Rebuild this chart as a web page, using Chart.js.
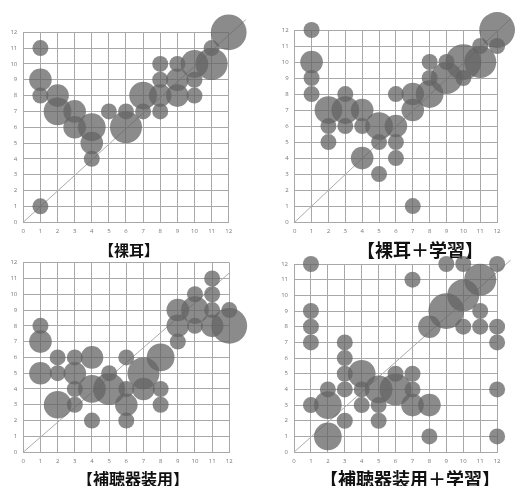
<!DOCTYPE html>
<html>
<head>
<meta charset="utf-8">
<script src="https://cdn.jsdelivr.net/npm/chart.js@4/dist/chart.umd.min.js"></script>
<style>
  body { margin: 0; background: #fff; }
  #wrap { position: relative; width: 515px; height: 486px; overflow: hidden; }
  canvas { position: absolute; }
  .cap {
    position: absolute;
    transform: translate(-50%, -50%);
    white-space: nowrap;
    font-family: "Noto Sans CJK JP", sans-serif;
    font-weight: bold;
    color: #111;
  }
</style>
</head>
<body>
<div id="wrap"></div>
<script>
// [x, y, count] — count is number of answers on that cell
const rajiPoints = [
  [1, 11, 1], [1, 9, 2], [1, 8, 1], [1, 1, 1],
  [2, 8, 2], [2, 7, 3], [3, 7, 2], [3, 6, 2],
  [4, 6, 3], [4, 5, 2], [4, 4, 1], [5, 7, 1],
  [6, 7, 1], [6, 6, 4], [7, 8, 3], [7, 7, 1],
  [8, 10, 1], [8, 9, 1], [8, 8, 2], [8, 7, 1],
  [9, 10, 1], [9, 9, 2], [9, 8, 2],
  [10, 10, 3], [10, 9, 1], [10, 8, 1],
  [11, 11, 1], [11, 10, 4], [12, 12, 5]
];
const rajiGakushuPoints = [
  [1, 12, 1], [1, 10, 2], [1, 9, 1], [1, 8, 1],
  [2, 7, 3], [2, 6, 1], [2, 5, 1],
  [3, 8, 1], [3, 7, 3], [3, 6, 1],
  [4, 7, 2], [4, 6, 1], [4, 4, 2],
  [5, 6, 3], [5, 5, 1], [5, 3, 1],
  [6, 8, 1], [6, 6, 2], [6, 5, 1], [6, 4, 1],
  [7, 8, 2], [7, 7, 2], [7, 1, 1],
  [8, 10, 1], [8, 9, 1], [8, 8, 3],
  [9, 10, 1], [9, 9, 4], [10, 10, 5], [10, 9, 1],
  [11, 11, 1], [11, 10, 4], [12, 12, 5], [12, 11, 1]
];
const hochokiPoints = [
  [1, 8, 1], [1, 7, 2], [1, 5, 2],
  [2, 6, 1], [2, 5, 1], [2, 3, 3],
  [3, 6, 1], [3, 5, 2], [3, 4, 1], [3, 3, 1],
  [4, 6, 2], [4, 4, 3], [4, 2, 1],
  [5, 5, 1], [5, 4, 4],
  [6, 6, 1], [6, 4, 1], [6, 3, 2], [6, 2, 1],
  [7, 5, 4], [7, 4, 2],
  [8, 6, 3], [8, 4, 1], [8, 3, 1],
  [9, 9, 2], [9, 8, 2], [9, 7, 1],
  [10, 10, 1], [10, 9, 3], [10, 8, 1],
  [11, 11, 1], [11, 10, 1], [11, 9, 1], [11, 8, 2],
  [12, 9, 1], [12, 8, 5]
];
const hochokiGakushuPoints = [
  [1, 12, 1], [1, 9, 1], [1, 8, 1], [1, 7, 1], [1, 3, 1],
  [2, 4, 1], [2, 3, 3], [2, 1, 3],
  [3, 7, 1], [3, 6, 1], [3, 5, 1], [3, 4, 1], [3, 2, 1],
  [4, 5, 3], [4, 4, 1], [4, 3, 1],
  [5, 4, 3], [5, 3, 1], [5, 2, 1],
  [6, 5, 1], [6, 4, 4],
  [7, 11, 1], [7, 5, 1], [7, 4, 1], [7, 3, 2],
  [8, 8, 2], [8, 3, 2], [8, 1, 1],
  [9, 12, 1], [9, 9, 5],
  [10, 12, 1], [10, 10, 4], [10, 8, 1],
  [11, 11, 4], [11, 9, 1], [11, 8, 1],
  [12, 12, 1], [12, 8, 1], [12, 7, 1], [12, 4, 1], [12, 1, 1]
];
// reference diagonal (start / end in data units)
const rajiDiag = [[0, 0], [13, 12.8]];
const rajiGakushuDiag = [[0, 0], [12.8, 12.7]];
const hochokiDiag = [[0, 0], [12, 11.35]];
const hochokiGakushuDiag = [[0, 0], [12.8, 12.25]];

const captions = ['【裸耳】', '【裸耳＋学習】', '【補聴器装用】', '【補聴器装用＋学習】'];

const Y_W = 20, X_H = 14;

// canvas box + wanted plot area (page pixels)
const panels = [
  { pts: rajiPoints, diag: rajiDiag, cap: captions[0],
    box: { left: 0, top: 0, w: 257, h: 240 }, area: { l: 23.3, r: 228.7, t: 32.3, b: 223.3 },
    capPos: { x: 129, y: 249, size: 15 } },
  { pts: rajiGakushuPoints, diag: rajiGakushuDiag, cap: captions[1],
    box: { left: 257, top: 0, w: 258, h: 240 }, area: { l: 294.7, r: 500.7, t: 30, b: 222.7 },
    capPos: { x: 420, y: 249, size: 18 } },
  { pts: hochokiPoints, diag: hochokiDiag, cap: captions[2],
    box: { left: 0, top: 240, w: 257, h: 230 }, area: { l: 23.3, r: 229.3, t: 262.7, b: 453.3 },
    capPos: { x: 133, y: 478, size: 16 } },
  { pts: hochokiGakushuPoints, diag: hochokiGakushuDiag, cap: captions[3],
    box: { left: 257, top: 240, w: 258, h: 230 }, area: { l: 294, r: 500.7, t: 264, b: 454 },
    capPos: { x: 410, y: 478, size: 18 } }
];

const wrap = document.getElementById('wrap');

function makePanel(p) {
  const cv = document.createElement('canvas');
  cv.width = p.box.w;
  cv.height = p.box.h;
  cv.style.left = p.box.left + 'px';
  cv.style.top = p.box.top + 'px';
  wrap.appendChild(cv);

  const cap = document.createElement('div');
  cap.className = 'cap';
  cap.textContent = p.cap;
  cap.style.left = p.capPos.x + 'px';
  cap.style.top = p.capPos.y + 'px';
  cap.style.fontSize = p.capPos.size + 'px';
  wrap.appendChild(cap);

  const pad = {
    left: p.area.l - p.box.left - Y_W,
    right: p.box.left + p.box.w - p.area.r,
    top: p.area.t - p.box.top,
    bottom: p.box.top + p.box.h - p.area.b - X_H
  };

  const axis = (fit) => ({
    type: 'linear',
    min: 0,
    max: 12,
    ticks: {
      stepSize: 1,
      padding: 6,
      color: '#777',
      font: { family: 'Open Sans', size: 6 }
    },
    grid: { color: '#a8a8a8', lineWidth: 1, drawTicks: false },
    border: { color: '#a8a8a8' },
    afterFit: fit
  });

  new Chart(cv, {
    type: 'bubble',
    data: {
      datasets: [
        {
          data: p.pts.map(d => ({ x: d[0], y: d[1], r: 8 * Math.sqrt(d[2]) })),
          backgroundColor: 'rgba(100,100,100,0.75)',
          borderWidth: 0,
          hoverRadius: 0,
          clip: false,
          order: 1
        },
        {
          type: 'line',
          data: p.diag.map(d => ({ x: d[0], y: d[1] })),
          borderColor: '#aaa',
          borderWidth: 1,
          pointRadius: 0,
          clip: false,
          order: 2
        }
      ]
    },
    options: {
      responsive: false,
      animation: false,
      layout: { padding: pad },
      plugins: { legend: { display: false }, tooltip: { enabled: false } },
      scales: {
        x: axis(s => { s.height = X_H; s.paddingLeft = 0; s.paddingRight = 0; }),
        y: axis(s => { s.width = Y_W; s.paddingTop = 0; s.paddingBottom = 0; })
      }
    }
  });
}

panels.forEach(makePanel);
</script>
</body>
</html>
